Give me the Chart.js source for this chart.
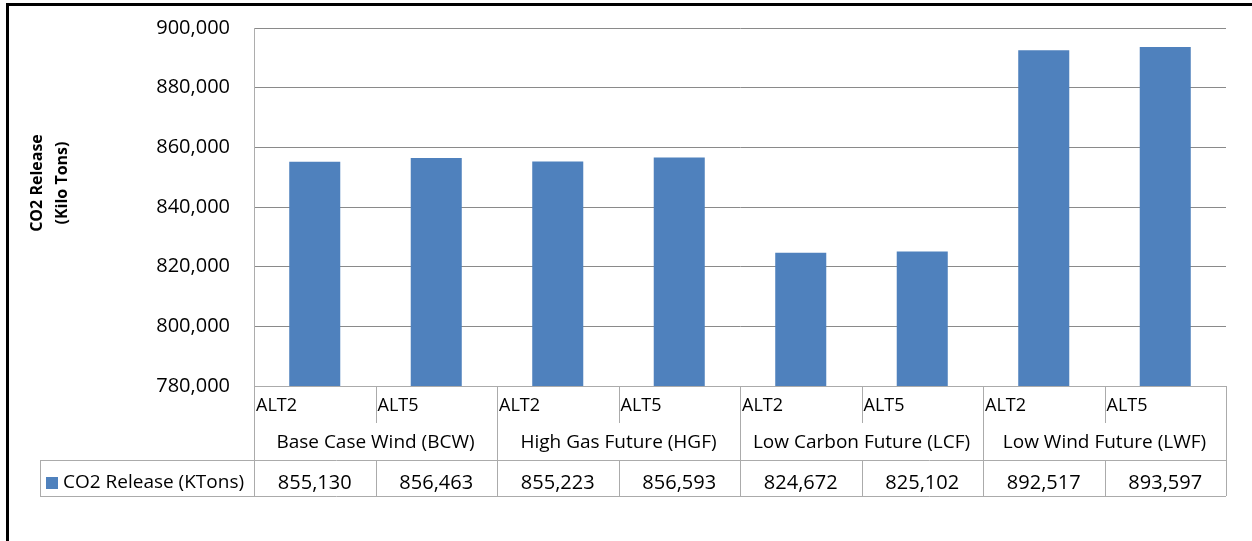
<!DOCTYPE html>
<html>
<head>
<meta charset="utf-8">
<script src="https://cdn.jsdelivr.net/npm/chart.js@4"></script>
<style>
html,body{margin:0;padding:0;background:#fff;}
#wrap{width:1252px;height:541px;position:relative;}
</style>
</head>
<body>
<div id="wrap"><canvas id="c" width="1252" height="541"></canvas></div>
<script>
const alternatives = ["ALT2","ALT5","ALT2","ALT5","ALT2","ALT5","ALT2","ALT5"];
const futures = ["Base Case Wind (BCW)","High Gas Future (HGF)","Low Carbon Future (LCF)","Low Wind Future (LWF)"];
const seriesName = "CO2 Release (KTons)";
const co2Release = [855130, 856463, 855223, 856593, 824672, 825102, 892517, 893597];
const yTicksMin = 780000, yTicksMax = 900000, yTicksStep = 20000;
const axisTitle = ["CO2 Release", "(Kilo Tons)"];

const FONT = '"Open Sans", "Liberation Sans", sans-serif';
const BAR = '#4F81BD';
const TABLE_LINE = '#ABABAB';
const fmt = v => v.toLocaleString('en-US');

const tablePlugin = {
  id: 'tablePlugin',
  beforeDraw(chart) {
    const ctx = chart.ctx;
    ctx.save();
    ctx.fillStyle = '#fff';
    ctx.fillRect(0, 0, chart.width, chart.height);
    ctx.restore();
  },
  afterDraw(chart) {
    const ctx = chart.ctx;
    const x = chart.scales.x;
    const ca = chart.chartArea;
    const n = alternatives.length;
    const half = (x.getPixelForValue(1) - x.getPixelForValue(0)) / 2;
    const edges = [];
    for (let i = 0; i < n; i++) edges.push(x.getPixelForValue(i) - half);
    edges.push(x.getPixelForValue(n - 1) + half);

    const top = ca.bottom;          // 386
    const altBottom = top + 37;     // 423
    const rowTop = top + 74;        // 460
    const rowBottom = top + 110;    // 496
    const legendLeft = 40;

    ctx.save();
    ctx.strokeStyle = TABLE_LINE;
    ctx.lineWidth = 1;
    const line = (x1, y1, x2, y2) => {
      ctx.beginPath(); ctx.moveTo(x1, y1); ctx.lineTo(x2, y2); ctx.stroke();
    };
    line(edges[0], top + 0.5, edges[n], top + 0.5);
    line(legendLeft, rowTop + 0.5, edges[n], rowTop + 0.5);
    line(legendLeft, rowBottom + 0.5, edges[n], rowBottom + 0.5);
    line(legendLeft + 0.5, rowTop, legendLeft + 0.5, rowBottom);
    edges.forEach((e, i) => {
      const ex = Math.round(e) + 0.5;
      if (i % 2 === 0) {
        line(ex, top, ex, rowBottom);
      } else {
        line(ex, top, ex, altBottom);
        line(ex, rowTop, ex, rowBottom);
      }
    });

    ctx.fillStyle = '#000';
    ctx.textBaseline = 'middle';
    // alternative labels
    ctx.font = '18px ' + FONT;
    ctx.textAlign = 'left';
    alternatives.forEach((a, i) => ctx.fillText(a, edges[i] + 2, top + 20));
    // future labels
    ctx.font = '19px ' + FONT;
    ctx.textAlign = 'center';
    futures.forEach((f, g) => ctx.fillText(f, (edges[2 * g] + edges[2 * g + 2]) / 2, top + 57));
    // values
    ctx.font = '20px ' + FONT;
    co2Release.forEach((v, i) => ctx.fillText(fmt(v), (edges[i] + edges[i + 1]) / 2, rowTop + 23));
    // legend key
    ctx.fillStyle = BAR;
    ctx.fillRect(46, rowTop + 17, 12, 12);
    ctx.fillStyle = '#000';
    ctx.textAlign = 'left';
    ctx.font = '19px ' + FONT;
    ctx.fillText(seriesName, 63, rowTop + 23);

    // axis title
    ctx.save();
    ctx.font = 'bold 16px ' + FONT;
    ctx.textAlign = 'center';
    ctx.translate(49, 183);
    ctx.rotate(-Math.PI / 2);
    ctx.fillText(axisTitle[0], 0, -12);
    ctx.fillText(axisTitle[1], 0, 13);
    ctx.restore();

    // outer frame
    ctx.strokeStyle = '#000';
    ctx.lineWidth = 3;
    ctx.strokeRect(7.5, 4.5, 1400, 700);
    ctx.restore();
  }
};

new Chart(document.getElementById('c'), {
  type: 'bar',
  data: {
    labels: alternatives,
    datasets: [{
      label: seriesName,
      data: co2Release,
      backgroundColor: BAR,
      borderWidth: 0,
      barPercentage: 0.42,
      categoryPercentage: 1.0
    }]
  },
  options: {
    responsive: false,
    animation: false,
    devicePixelRatio: 1,
    layout: { padding: { left: 0, top: 28, right: 26, bottom: 155 } },
    plugins: { legend: { display: false }, tooltip: { enabled: false }, title: { display: false } },
    scales: {
      x: {
        display: false,
        offset: true,
        grid: { display: false }
      },
      y: {
        min: yTicksMin,
        max: yTicksMax,
        afterFit(scale) {
          scale.width = 254;
          scale.paddingTop = 0;
          scale.paddingBottom = 0;
        },
        ticks: {
          stepSize: yTicksStep,
          padding: 24,
          color: '#000',
          font: { family: FONT, size: 20 },
          callback: v => fmt(v)
        },
        grid: { color: '#8A8A8A', lineWidth: 1, drawTicks: false },
        border: { display: true, color: '#ADADAD', width: 1 }
      }
    }
  },
  plugins: [tablePlugin]
});
</script>
</body>
</html>
